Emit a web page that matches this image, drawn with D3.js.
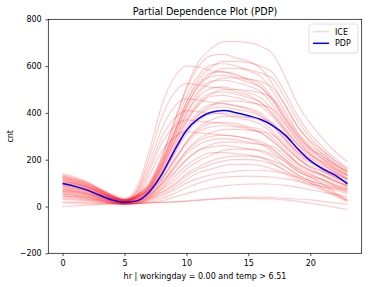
<!DOCTYPE html>
<html lang="en">
<head>
    <meta charset="UTF-8">
    <title>Partial Dependence Plot (PDP)</title>
    <script src="https://d3js.org/d3.v7.min.js"></script>
    <style>
        body { margin: 0; background: #fff; }
        svg text { font-family: "DejaVu Sans", sans-serif; fill: #000; }
    </style>
</head>
<body>
<div id="chart"></div>
<script>
    // hours on the x axis
    const hours = d3.range(0, 24);
    const xTicks = [0, 5, 10, 15, 20];
    const yTicks = [-200, 0, 200, 400, 600, 800];

    // averaged curve (blue)
    const pdpValues = [98, 86, 70, 48, 28, 18, 24, 62, 136, 236, 325, 377, 403, 410, 401, 388, 372, 345, 304, 246, 196, 161, 134, 97];

    // individual curves (red, faint)
    const iceCurves = [
        [130,117,98,72,47,30,50,95,210,355,510,620,675,705,705,700,685,650,550,435,355,290,235,190],
        [140,126,105,76,49,30,50,105,210,360,500,600,645,650,635,620,590,520,430,340,280,240,195,155],
        [125,112,94,69,44,28,47,87,187,310,445,545,595,620,620,615,600,570,485,385,310,255,205,165],
        [120,108,90,65,41,25,43,93,198,335,470,560,605,610,600,580,555,490,405,315,260,225,185,145],
        [135,122,103,77,52,35,83,235,430,550,600,595,580,575,560,540,510,450,370,300,250,215,180,150],
        [110,99,83,61,39,25,43,80,175,295,425,520,565,590,590,585,570,545,460,365,295,240,195,160],
        [130,117,98,72,47,30,47,95,190,315,445,530,570,575,565,545,525,460,380,300,245,215,175,140],
        [115,103,85,61,38,22,40,85,185,310,430,515,555,560,550,530,510,450,370,290,240,205,170,135],
        [105,95,79,59,39,25,40,75,165,275,395,485,530,550,550,545,535,505,430,340,275,225,180,150],
        [125,112,94,69,44,28,45,85,175,295,415,495,535,540,530,515,490,430,355,280,230,200,160,130],
        [120,108,91,68,45,30,70,210,380,485,525,520,510,505,490,475,445,395,325,265,220,190,160,130],
        [100,90,75,55,35,22,38,80,170,280,395,470,505,510,500,485,465,410,335,265,220,190,155,120],
        [110,99,83,61,39,25,40,70,150,250,360,440,480,500,500,495,485,460,390,310,250,205,165,135],
        [95,85,71,52,33,20,35,75,160,270,375,450,485,490,480,465,445,390,325,255,210,180,145,115],
        [115,103,86,63,40,25,40,75,155,260,365,435,470,475,465,450,430,380,315,245,205,175,145,115],
        [105,95,80,60,41,28,65,185,330,425,460,455,445,440,430,415,390,345,285,230,195,165,140,115],
        [90,81,68,49,32,20,35,65,135,225,325,395,430,450,450,445,435,415,350,280,225,185,150,120],
        [100,90,75,55,35,22,35,70,145,240,340,405,435,440,430,420,400,350,290,230,190,165,130,105],
        [85,76,64,46,29,18,30,65,140,235,325,390,420,425,415,405,385,340,280,220,185,155,130,100],
        [95,86,73,54,37,25,60,165,295,375,410,405,400,395,380,370,350,310,255,205,170,150,125,100],
        [80,72,60,44,29,18,30,65,130,220,310,370,395,400,390,380,365,320,265,210,170,150,120,95],
        [90,81,68,49,32,20,30,55,115,195,275,340,370,385,385,380,375,355,300,240,195,160,125,105],
        [75,68,58,44,31,22,50,150,270,340,370,365,360,355,345,335,315,280,230,185,155,135,110,90],
        [70,63,52,38,24,15,25,60,120,200,275,330,355,360,355,340,330,290,240,185,155,135,110,85],
        [85,76,64,46,29,18,30,55,115,190,265,320,340,345,340,330,315,275,230,180,150,130,105,85],
        [65,59,49,36,24,15,25,45,100,165,240,290,315,330,330,325,320,305,255,205,165,135,110,90],
        [70,64,54,41,29,20,45,130,235,295,320,315,310,305,300,290,270,240,200,160,135,115,95,80],
        [60,54,46,34,23,15,25,50,100,170,235,280,300,305,300,290,280,245,200,160,130,115,90,75],
        [75,67,56,40,25,15,25,50,95,160,225,265,285,290,285,275,265,230,190,150,125,105,85,70],
        [55,49,41,30,19,12,20,40,80,140,200,240,265,275,275,270,265,255,215,170,140,115,90,75],
        [65,59,49,36,24,15,22,45,90,145,200,240,255,260,255,245,235,210,170,135,110,95,80,60],
        [50,45,38,28,18,12,18,35,70,110,160,195,220,240,245,245,240,220,190,150,125,95,60,30],
        [45,41,34,26,18,12,20,40,75,125,175,210,230,230,225,220,210,185,150,120,100,85,70,55],
        [55,49,41,30,19,12,15,35,60,95,140,170,195,210,215,215,210,195,170,135,110,80,55,25],
        [40,36,30,23,15,10,15,30,60,90,130,160,180,195,200,200,195,180,155,125,100,75,50,25],
        [45,41,34,26,18,12,15,30,50,80,115,145,160,175,180,180,175,160,140,110,90,70,45,20],
        [35,32,27,21,14,10,14,25,45,70,100,120,135,145,150,155,155,150,140,125,110,95,80,70],
        [30,28,24,18,13,10,12,20,35,55,80,100,115,125,128,130,128,125,118,108,95,85,75,65],
        [20,19,17,15,12,10,12,16,25,40,55,70,80,88,93,96,97,95,90,82,72,62,52,42],
        [15,14,12,11,10,10,12,15,18,20,24,28,32,36,38,40,40,38,35,32,28,22,16,10],
        [0,3,6,9,12,14,15,16,18,20,22,26,30,33,35,35,34,32,28,22,14,6,-4,-12]
    ];

    const W = 369, H = 287;
    const plot = {left: 48.3, right: 361.7, top: 19.3, bottom: 253.3};

    const svg = d3.select("#chart").append("svg")
        .attr("width", W)
        .attr("height", H);

    const x = d3.scaleLinear().domain([-1.15, 24.15]).range([plot.left, plot.right]);
    const y = d3.scaleLinear().domain([-200, 800]).range([plot.bottom, plot.top]);

    const line = d3.line()
        .x((d, i) => x(hours[i]))
        .y(d => y(d))
        .curve(d3.curveMonotoneX);

    // ICE lines
    svg.append("g")
        .selectAll("path")
        .data(iceCurves)
        .join("path")
        .attr("d", line)
        .attr("fill", "none")
        .attr("stroke", "red")
        .attr("stroke-opacity", 0.2)
        .attr("stroke-width", 1.2);

    // PDP line
    svg.append("path")
        .datum(pdpValues)
        .attr("d", line)
        .attr("fill", "none")
        .attr("stroke", "blue")
        .attr("stroke-width", 1.5);

    // axes
    const xAxis = svg.append("g")
        .attr("transform", `translate(0,${plot.bottom})`)
        .call(d3.axisBottom(x).tickValues(xTicks).tickSize(2.8).tickPadding(4.5).tickSizeOuter(0));
    const yAxis = svg.append("g")
        .attr("transform", `translate(${plot.left},0)`)
        .call(d3.axisLeft(y).tickValues(yTicks).tickSize(2.8).tickPadding(3.8).tickSizeOuter(0)
            .tickFormat(d => d < 0 ? "\u2212" + Math.abs(d) : d));

    [xAxis, yAxis].forEach(a => {
        a.select(".domain").remove();
        a.selectAll("line").attr("stroke", "#000").attr("stroke-width", 0.7);
        a.selectAll("text").style("font-size", "8px").style("font-family", "DejaVu Sans");
    });

    // frame
    svg.append("rect")
        .attr("x", plot.left)
        .attr("y", plot.top)
        .attr("width", plot.right - plot.left)
        .attr("height", plot.bottom - plot.top)
        .attr("fill", "none")
        .attr("stroke", "#000")
        .attr("stroke-width", 0.7);

    // title and labels
    svg.append("text")
        .attr("x", (plot.left + plot.right) / 2)
        .attr("y", 14.5)
        .attr("text-anchor", "middle")
        .style("font-size", "9.6px")
        .text("Partial Dependence Plot (PDP)");

    svg.append("text")
        .attr("x", (plot.left + plot.right) / 2)
        .attr("y", 279)
        .attr("text-anchor", "middle")
        .style("font-size", "8px")
        .text("hr | workingday = 0.00 and temp > 6.51");

    svg.append("text")
        .attr("transform", `translate(13,${(plot.top + plot.bottom) / 2}) rotate(-90)`)
        .attr("text-anchor", "middle")
        .style("font-size", "8px")
        .text("cnt");

    // legend
    const legend = svg.append("g");
    legend.append("rect")
        .attr("x", 309).attr("y", 24)
        .attr("width", 49).attr("height", 29)
        .attr("rx", 2)
        .attr("fill", "#fff").attr("fill-opacity", 0.8)
        .attr("stroke", "#d6d6d6").attr("stroke-width", 0.8);

    const items = [
        {label: "ICE", color: "red", opacity: 0.2, y: 31.7},
        {label: "PDP", color: "blue", opacity: 1, y: 43.3}
    ];
    items.forEach(it => {
        legend.append("line")
            .attr("x1", 313).attr("x2", 329)
            .attr("y1", it.y).attr("y2", it.y)
            .attr("stroke", it.color)
            .attr("stroke-opacity", it.opacity)
            .attr("stroke-width", it.color === "blue" ? 1.5 : 1.2);
        legend.append("text")
            .attr("x", 335)
            .attr("y", it.y + 2.9)
            .style("font-size", "8px")
            .text(it.label);
    });
</script>
</body>
</html>
